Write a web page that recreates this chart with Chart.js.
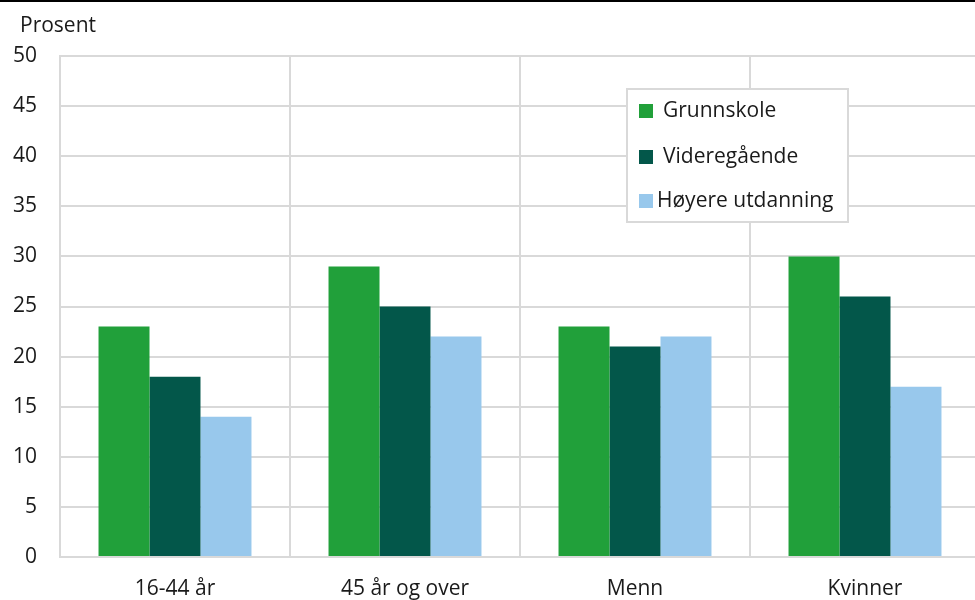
<!DOCTYPE html>
<html>
<head>
<meta charset="utf-8">
<script src="https://cdn.jsdelivr.net/npm/chart.js@4"></script>
<style>
	html, body { margin: 0; padding: 0; background: #fff; overflow: hidden; }
	#wrap { width: 975px; height: 600px; position: relative; overflow: hidden; }
	#topline { position: absolute; left: 0; top: 0; width: 975px; height: 2px; background: #000; }
</style>
</head>
<body>
<div id="wrap">
	<canvas id="chart-canvas" width="980" height="600"></canvas>
	<div id="topline"></div>
</div>
<script>
// data
const categories = ['16-44 år', '45 år og over', 'Menn', 'Kvinner']
const series_names = ['Grunnskole', 'Videregående', 'Høyere utdanning']
const grunnskole = [23, 29, 23, 30]
const videregaende = [18, 25, 21, 26]
const hoyere = [14, 22, 22, 17]
const y_ticks = [0, 5, 10, 15, 20, 25, 30, 35, 40, 45, 50]

const colours = ['#21a03a', '#03574a', '#98c8ec']
const grid_colour = '#d9d9d9'
const font_family = '"Open Sans", sans-serif'
const font_size = 21

Chart.defaults.font.family = font_family
Chart.defaults.font.size = font_size
Chart.defaults.color = '#1a1a1a'

// axis title + legend box drawn on top
const extras = {
	id: 'extras',
	afterDraw(chart) {
		let ctx = chart.ctx
		ctx.save()
		ctx.font = `${font_size}px ${font_family}`
		ctx.fillStyle = '#1a1a1a'
		ctx.textBaseline = 'middle'
		ctx.textAlign = 'left'
		ctx.fillText('Prosent', 20, 26)

		// legend box
		let box = { x: 627, y: 89, w: 221, h: 133 }
		ctx.fillStyle = '#fff'
		ctx.fillRect(box.x, box.y, box.w, box.h)
		ctx.strokeStyle = grid_colour
		ctx.lineWidth = 2
		ctx.strokeRect(box.x, box.y, box.w, box.h)

		let rows = [111, 157, 201]
		let text_x = [663, 663, 657]
		chart.data.datasets.forEach((ds, i) => {
			ctx.fillStyle = ds.backgroundColor
			ctx.fillRect(639, rows[i] - 7, 14, 14)
			ctx.fillStyle = '#1a1a1a'
			ctx.fillText(ds.label, text_x[i], rows[i])
		})
		ctx.restore()
	}
}

new Chart(document.getElementById('chart-canvas'), {
	type: 'bar',
	data: {
		labels: categories,
		datasets: [
			{ label: series_names[0], data: grunnskole, backgroundColor: colours[0] },
			{ label: series_names[1], data: videregaende, backgroundColor: colours[1] },
			{ label: series_names[2], data: hoyere, backgroundColor: colours[2] }
		]
	},
	options: {
		responsive: false,
		animation: false,
		layout: { padding: { top: 56, right: 0, left: 0, bottom: 0 } },
		datasets: {
			bar: { barPercentage: 1, categoryPercentage: 0.665, borderWidth: 0 }
		},
		scales: {
			x: {
				offset: true,
				grid: { display: true, offset: true, color: grid_colour, lineWidth: 2, drawTicks: false },
				border: { display: true, color: grid_colour, width: 2 },
				ticks: { padding: 19, maxRotation: 0 },
				afterFit(scale) { scale.height = 43 }
			},
			y: {
				min: 0,
				max: 50,
				afterBuildTicks(scale) { scale.ticks = y_ticks.map(v => ({ value: v })) },
				grid: { color: grid_colour, lineWidth: 2, drawTicks: false },
				border: { display: true, color: grid_colour, width: 2 },
				ticks: { padding: 23 },
				afterFit(scale) { scale.width = 60 }
			}
		},
		plugins: {
			legend: { display: false },
			tooltip: { enabled: false }
		}
	},
	plugins: [extras]
})
</script>
</body>
</html>
